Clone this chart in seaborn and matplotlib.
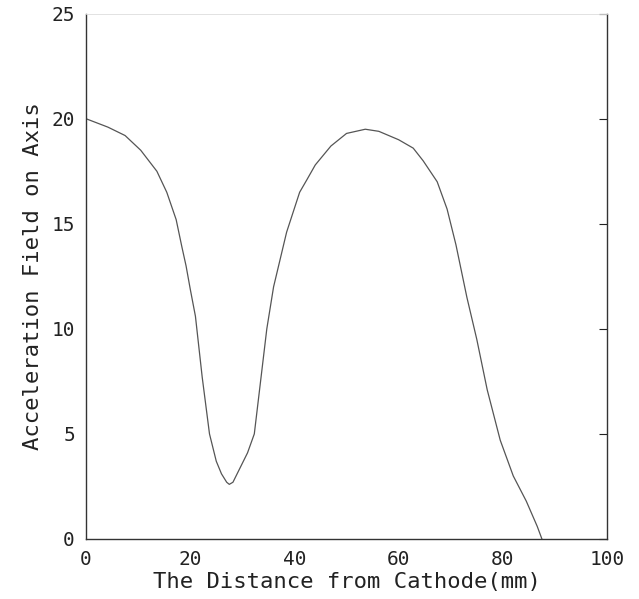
import matplotlib
matplotlib.use('Agg')
import matplotlib.pyplot as plt
import pandas as pd
import seaborn as sns

# values (distance in mm, field on axis)
distance = [0, 4.2, 7.5, 10.5, 13.6, 15.5, 17.3, 18.4, 19.2, 20, 21, 22.3, 23.7,
            25, 26, 27, 27.5, 28.2, 29.6, 31, 32.3, 33.5, 34.7, 36, 38.5, 41,
            42.4, 44, 47, 50, 53.6, 56.2, 60, 62.8, 64.7, 67.4, 69.3, 71, 73.1,
            75, 77, 79.5, 82, 84.5, 86.6, 87.5]
field = [20.0, 19.6, 19.2, 18.5, 17.5, 16.5, 15.2, 13.9, 13.0, 11.9, 10.6, 7.7,
         5.0, 3.7, 3.1, 2.7, 2.6, 2.7, 3.4, 4.1, 5.0, 7.5, 10.0, 12.0, 14.6,
         16.5, 17.1, 17.8, 18.7, 19.3, 19.5, 19.4, 19.0, 18.6, 18.0, 17.0, 15.7,
         14.0, 11.5, 9.5, 7.1, 4.7, 3.0, 1.8, 0.6, 0.0]

x_ticks = [0, 20, 40, 60, 80, 100]
y_ticks = [0, 5, 10, 15, 20, 25]


def plot_graph(df: pd.DataFrame, fig_location: str = None):
    """
    plot the field curve in the style of the old scanned figure
    """
    sns.set_style("white")
    plt.rcParams['font.family'] = ['DejaVu Sans Mono', 'DejaVu Sans']

    fig = plt.figure(figsize=(6.39, 5.99), dpi=100)
    ax = fig.add_axes([0.1346, 0.1002, 0.8154, 0.877])

    sns.lineplot(data=df, x='distance', y='field', sort=False, ax=ax,
                 color='#555555', linewidth=0.9)

    ax.set_xlim(0, 100)
    ax.set_ylim(0, 25)
    ax.set_xticks(x_ticks)
    ax.set_yticks(y_ticks)
    ax.tick_params(axis='both', direction='in', length=6, width=0.8,
                   labelsize=14, colors='#222222', pad=8)
    ax.tick_params(axis='y', right=True, labelright=False)
    ax.tick_params(axis='x', top=False)

    for side in ['left', 'bottom', 'right']:
        ax.spines[side].set_color('#333333')
        ax.spines[side].set_linewidth(1.0)
    ax.spines['top'].set_color('#dddddd')
    ax.spines['top'].set_linewidth(0.6)

    ax.set_xlabel('The Distance from Cathode(mm)', fontsize=16, labelpad=2, color='#222222')
    ax.set_ylabel('Acceleration Field on Axis', fontsize=16, labelpad=6, color='#222222')

    if fig_location:
        fig.savefig(fig_location, dpi=100)


if __name__ == "__main__":
    df = pd.DataFrame({'distance': distance, 'field': field})
    plot_graph(df, fig_location="out.png")
